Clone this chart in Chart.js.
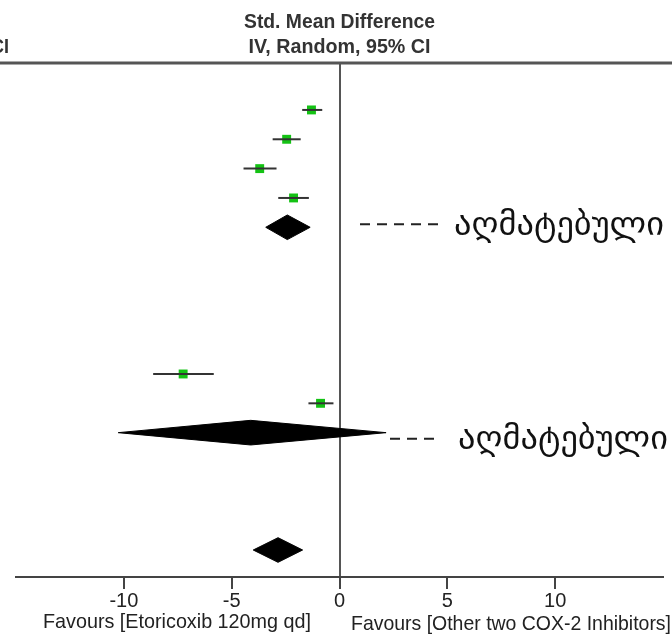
<!DOCTYPE html>
<html>
<head>
<meta charset="utf-8">
<script src="https://cdn.jsdelivr.net/npm/chart.js@4.4.1/dist/chart.umd.min.js"></script>
<style>
  html, body { margin: 0; padding: 0; background: #fff; }
  #wrap { width: 672px; height: 639px; }
</style>
</head>
<body>
<div id="wrap"><canvas id="forest" width="672" height="639"></canvas></div>
<script>
// study rows (row index from top), estimates and 95% CI
var studyRows = [0, 1, 2, 3, 9, 10];
var studyEst  = [-1.30, -2.45, -3.70, -2.13, -7.25, -0.88];
var studyLo   = [-1.73, -3.10, -4.45, -2.84, -8.64, -1.44];
var studyHi   = [-0.80, -1.80, -2.92, -1.42, -5.83, -0.28];

// pooled (diamond) rows
var totalRows = [4, 11, 15];
var totalEst  = [-2.42, -4.12, -2.85];
var totalLo   = [-3.42, -10.26, -4.00];
var totalHi   = [-1.36, 2.16, -1.71];

var tickValues  = [-10, -5, 0, 5, 10];
var headerLines = ['Std. Mean Difference', 'IV, Random, 95% CI'];
var axisLabels  = ['Favours [Etoricoxib 120mg qd]', 'Favours [Other two COX-2 Inhibitors]'];
var noteText    = 'აღმატებული';

var sansFont = '"Liberation Sans", Arial, sans-serif';
var datasets = [];

// confidence interval whiskers
studyRows.forEach(function (row, i) {
  datasets.push({
    type: 'line',
    data: [{x: studyLo[i], y: row}, {x: studyHi[i], y: row}],
    borderColor: '#333',
    borderWidth: 2,
    pointRadius: 0,
    fill: false
  });
});

// green squares
datasets.push({
  type: 'scatter',
  data: studyRows.map(function (row, i) { return {x: studyEst[i], y: row}; }),
  pointStyle: 'rect',
  pointRadius: 6.3,
  backgroundColor: '#14c214',
  borderColor: '#14c214',
  borderWidth: 0
});

// diamonds
var dh = 0.42;
totalRows.forEach(function (row, i) {
  datasets.push({
    type: 'line',
    data: [
      {x: totalLo[i], y: row},
      {x: totalEst[i], y: row - dh},
      {x: totalHi[i], y: row},
      {x: totalEst[i], y: row + dh},
      {x: totalLo[i], y: row}
    ],
    borderColor: '#000',
    borderWidth: 1,
    backgroundColor: '#000',
    pointRadius: 0,
    tension: 0,
    fill: 'shape'
  });
});

// draw text scaled horizontally to a given width (the original uses a narrow face)
var fillFit = function (ctx, text, cx, y, width) {
  var sx = width / ctx.measureText(text).width;
  ctx.save();
  ctx.translate(cx, y);
  ctx.scale(sx, 1);
  ctx.fillText(text, 0, 0);
  ctx.restore();
};

var textPlugin = {
  id: 'forestText',
  afterDraw: function (chart) {
    var ctx = chart.ctx,
        area = chart.chartArea,
        xs = chart.scales.x,
        ys = chart.scales.y,
        x0 = xs.getPixelForValue(0);

    ctx.save();
    // heavy top rule
    ctx.strokeStyle = '#555';
    ctx.lineWidth = 3;
    ctx.beginPath();
    ctx.moveTo(0, area.top);
    ctx.lineTo(672, area.top);
    ctx.stroke();

    // header
    ctx.fillStyle = '#333';
    ctx.textBaseline = 'middle';
    ctx.textAlign = 'center';
    ctx.font = 'bold 20px ' + sansFont;
    fillFit(ctx, headerLines[0], x0, 22, 191);
    fillFit(ctx, headerLines[1], x0, 47, 182);
    ctx.textAlign = 'right';
    fillFit(ctx, 'CI', 9, 47, 18);

    // favours labels
    ctx.fillStyle = '#222';
    ctx.font = '21px ' + sansFont;
    ctx.textAlign = 'center';
    fillFit(ctx, axisLabels[0], 177, 622, 268);
    fillFit(ctx, axisLabels[1], 511, 624, 320);

    // annotations with dashed leaders
    var notes = [
      {row: totalRows[0], dy: -3, from: 360, to: 438, textX: 454},
      {row: totalRows[1], dy: 6, from: 390, to: 434, textX: 458}
    ];
    notes.forEach(function (n) {
      var y = ys.getPixelForValue(n.row) + n.dy;
      ctx.strokeStyle = '#222';
      ctx.lineWidth = 2;
      ctx.setLineDash([10, 7]);
      ctx.beginPath();
      ctx.moveTo(n.from, y);
      ctx.lineTo(n.to, y);
      ctx.stroke();
      ctx.setLineDash([]);
      ctx.font = '32px "DejaVu Sans", sans-serif';
      ctx.textAlign = 'left';
      ctx.fillStyle = '#111';
      fillFit(ctx, noteText, n.textX, y + 2, 210);
    });
    ctx.restore();
  }
};

new Chart(document.getElementById('forest'), {
  type: 'scatter',
  data: { datasets: datasets },
  options: {
    responsive: false,
    animation: false,
    layout: { padding: { top: 63, left: 16, right: 9, bottom: 0 } },
    plugins: { legend: { display: false }, tooltip: { enabled: false } },
    scales: {
      x: {
        type: 'linear',
        min: -15,
        max: 15,
        afterBuildTicks: function (scale) {
          scale.ticks = tickValues.map(function (v) { return {value: v}; });
        },
        afterFit: function (scale) { scale.height = 62; },
        border: { display: true, color: '#444', width: 2 },
        grid: {
          drawOnChartArea: true,
          color: function (c) { return c.tick && c.tick.value === 0 ? '#555' : 'rgba(0,0,0,0)'; },
          lineWidth: 2,
          tickColor: '#444',
          tickLength: 12
        },
        ticks: {
          color: '#222',
          padding: 0,
          maxRotation: 0,
          font: { family: sansFont, size: 20 }
        }
      },
      y: {
        type: 'linear',
        reverse: true,
        min: -1.6,
        max: 15.92,
        display: false
      }
    }
  },
  plugins: [textPlugin]
});
</script>
</body>
</html>
